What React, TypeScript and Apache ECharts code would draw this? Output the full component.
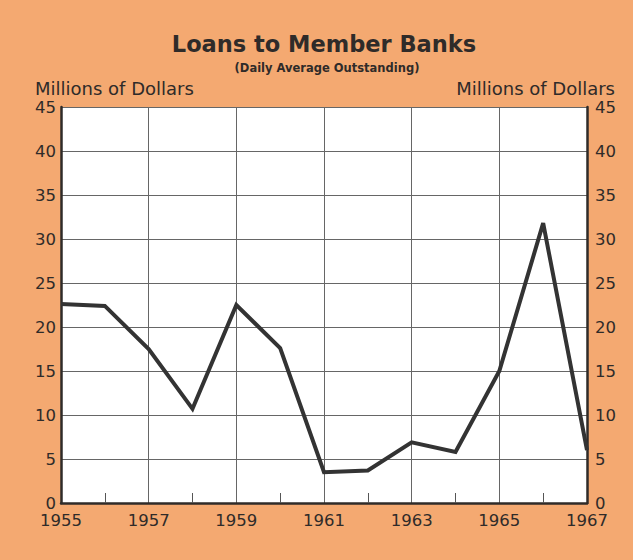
import React, { useEffect, useRef } from "react";
import * as echarts from "echarts";

const years = ["1955", "1956", "1957", "1958", "1959", "1960", "1961", "1962", "1963", "1964", "1965", "1966", "1967"];
const loans = [22.6, 22.4, 17.5, 10.7, 22.5, 17.6, 3.5, 3.7, 6.9, 5.8, 15.0, 31.8, 6.0];
const titleText = "Loans to Member Banks";
const subtitleText = "(Daily Average Outstanding)";
const unitText = "Millions of Dollars";

const BG = "#F4A971";
const INK = "#2f2b29";
const FONT = "'DejaVu Sans', 'Noto Sans', sans-serif";

export default function App() {
  const ref = useRef<HTMLDivElement>(null);
  useEffect(() => {
    const chart = echarts.init(ref.current!, null, { renderer: "svg" });
    chart.setOption({
      animation: false,
      backgroundColor: BG,
      textStyle: { fontFamily: FONT },
      graphic: [
        { type: "text", x: 324, y: 44, style: { text: titleText, font: `bold 22.5px ${FONT}`, fill: INK, textAlign: "center", textVerticalAlign: "middle" } },
        { type: "text", x: 327, y: 68, style: { text: subtitleText, font: `bold 11.5px ${FONT}`, fill: INK, textAlign: "center", textVerticalAlign: "middle" } },
        { type: "text", x: 35, y: 88, style: { text: unitText, font: `18px ${FONT}`, lineHeight: 17, fill: INK, textAlign: "left", textVerticalAlign: "middle" } },
        { type: "text", x: 615, y: 88, style: { text: unitText, font: `18px ${FONT}`, lineHeight: 17, fill: INK, textAlign: "right", textVerticalAlign: "middle" } },
      ],
      grid: { left: 61, right: 46, top: 107, bottom: 57, show: true, backgroundColor: "#ffffff", borderWidth: 0 },
      xAxis: {
        type: "category",
        data: years,
        boundaryGap: false,
        axisLine: { show: true, lineStyle: { color: INK, width: 2.5 } },
        axisTick: { show: true, inside: true, length: 10, interval: (i: number) => i % 2 === 1, lineStyle: { color: "#555", width: 1 } },
        splitLine: { show: true, interval: (i: number) => i % 2 === 0 && i > 0 && i < 12, lineStyle: { color: "#666", width: 1 } },
        axisLabel: { interval: (i: number) => i % 2 === 0, color: INK, fontSize: 16.5, fontFamily: FONT, margin: 11, lineHeight: 13 },
      },
      yAxis: [
        {
          type: "value", min: 0, max: 45, interval: 5, position: "left",
          axisLine: { show: true, lineStyle: { color: INK, width: 2.5 } },
          axisTick: { show: false },
          splitLine: { show: true, lineStyle: { color: "#666", width: 1 } },
          axisLabel: { color: INK, fontSize: 16.5, fontFamily: FONT, margin: 5, lineHeight: 13 },
        },
        {
          type: "value", min: 0, max: 45, interval: 5, position: "right",
          axisLine: { show: true, lineStyle: { color: INK, width: 2.5 } },
          axisTick: { show: false },
          splitLine: { show: false },
          axisLabel: { color: INK, fontSize: 16.5, fontFamily: FONT, margin: 8, lineHeight: 13 },
        },
      ],
      series: [
        {
          type: "line",
          data: loans,
          showSymbol: false,
          symbol: "none",
          lineStyle: { color: "#333", width: 4, join: "miter" },
          z: 5,
        },
      ],
    });
    return () => chart.dispose();
  }, []);
  return <div ref={ref} style={{ width: 633, height: 560, position: "absolute", left: 0, top: 0 }} />;
}
